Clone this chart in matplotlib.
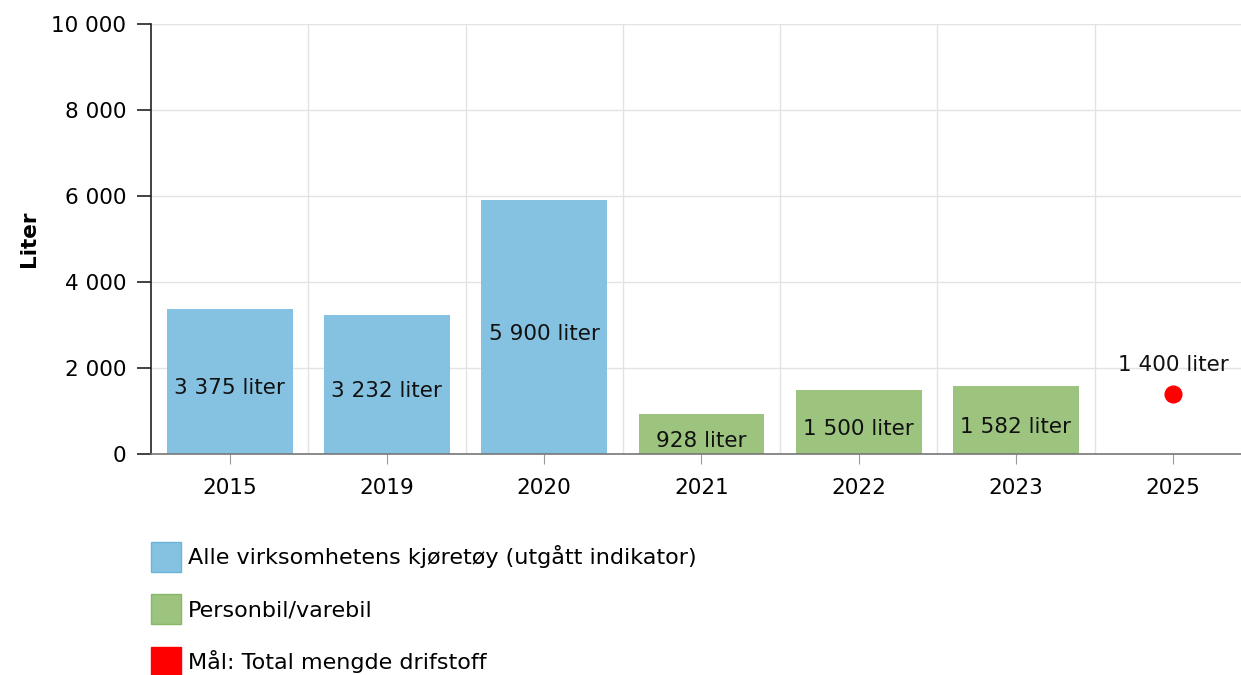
import numpy as np
import matplotlib.pyplot as plt
from matplotlib.patches import Patch
from matplotlib.ticker import FuncFormatter

years = ["2015", "2019", "2020", "2021", "2022", "2023", "2025"]
alle = [3375, 3232, 5900, np.nan, np.nan, np.nan, np.nan]
personbil = [np.nan, np.nan, np.nan, 928, 1500, 1582, np.nan]
maal = [np.nan, np.nan, np.nan, np.nan, np.nan, np.nan, 1400]

blue = "#85c2e1"
green = "#9cc47f"
red = "#ff0000"

def fmt(v):
    return f"{int(round(v)):,}".replace(",", " ")

plt.rcParams["font.family"] = ["DejaVu Sans"]

fig = plt.figure(figsize=(12.41, 6.75), dpi=100)
# the plot area runs a little past the right edge of the picture, as in the original
ax = fig.add_axes([0.1217, 0.3274, 0.887, 0.637])

x = np.arange(len(years))
ax.bar(x, alle, width=0.80, color=blue, zorder=2)
ax.bar(x, personbil, width=0.80, color=green, zorder=2)
ax.scatter(x, maal, s=170, color=red, zorder=3, linewidths=0)

for series in (alle, personbil):
    for xi, v in zip(x, series):
        if not np.isnan(v):
            ax.annotate(f"{fmt(v)} liter", (xi, v / 2), xytext=(0, -5), textcoords="offset points",
                        ha="center", va="center", fontsize=15.5, color="#111111", zorder=4)
for xi, v in zip(x, maal):
    if not np.isnan(v):
        ax.annotate(f"{fmt(v)} liter", (xi, v), xytext=(0, 21), textcoords="offset points",
                    ha="center", va="center", fontsize=15.5, color="#111111", zorder=4)

ax.set_xlim(-0.5, len(years) - 0.5)
ax.set_ylim(0, 10000)
ax.set_yticks(np.arange(0, 10001, 2000))
ax.yaxis.set_major_formatter(FuncFormatter(lambda v, p: fmt(v)))
ax.set_xticks(x)
ax.set_xticklabels(years)
ax.set_xticks(np.arange(0.5, len(years) - 0.5, 1), minor=True)

ax.grid(axis="y", which="major", color="#e3e3e3", linewidth=1.0, zorder=0)
ax.grid(axis="x", which="minor", color="#e3e3e3", linewidth=1.0, zorder=0)
ax.tick_params(axis="x", which="minor", length=0)
ax.tick_params(axis="x", which="major", length=7, color="#999999", labelsize=15.5, pad=10)
ax.tick_params(axis="y", length=10, width=1.2, color="#222222", labelsize=15.5, pad=8)

for s in ["top", "right"]:
    ax.spines[s].set_visible(False)
ax.spines["left"].set_color("#222222")
ax.spines["left"].set_linewidth(1.2)
ax.spines["bottom"].set_color("#777777")
ax.spines["bottom"].set_linewidth(1.2)

ax.set_ylabel("Liter", fontsize=15.5, fontweight="bold", labelpad=9)

handles = [
    Patch(facecolor=blue, edgecolor="#6cb3da", label="Alle virksomhetens kjøretøy (utgått indikator)"),
    Patch(facecolor=green, edgecolor="#87b868", label="Personbil/varebil"),
    Patch(facecolor=red, edgecolor=red, label="Mål: Total mengde drifstoff"),
]
fig.legend(handles=handles, loc="upper left", bbox_to_anchor=(0.1145, 0.210), frameon=False,
           fontsize=16, handlelength=1.35, handleheight=1.7, handletextpad=0.32,
           labelspacing=1.0, borderaxespad=0)

fig.savefig("out.png", dpi=100)
